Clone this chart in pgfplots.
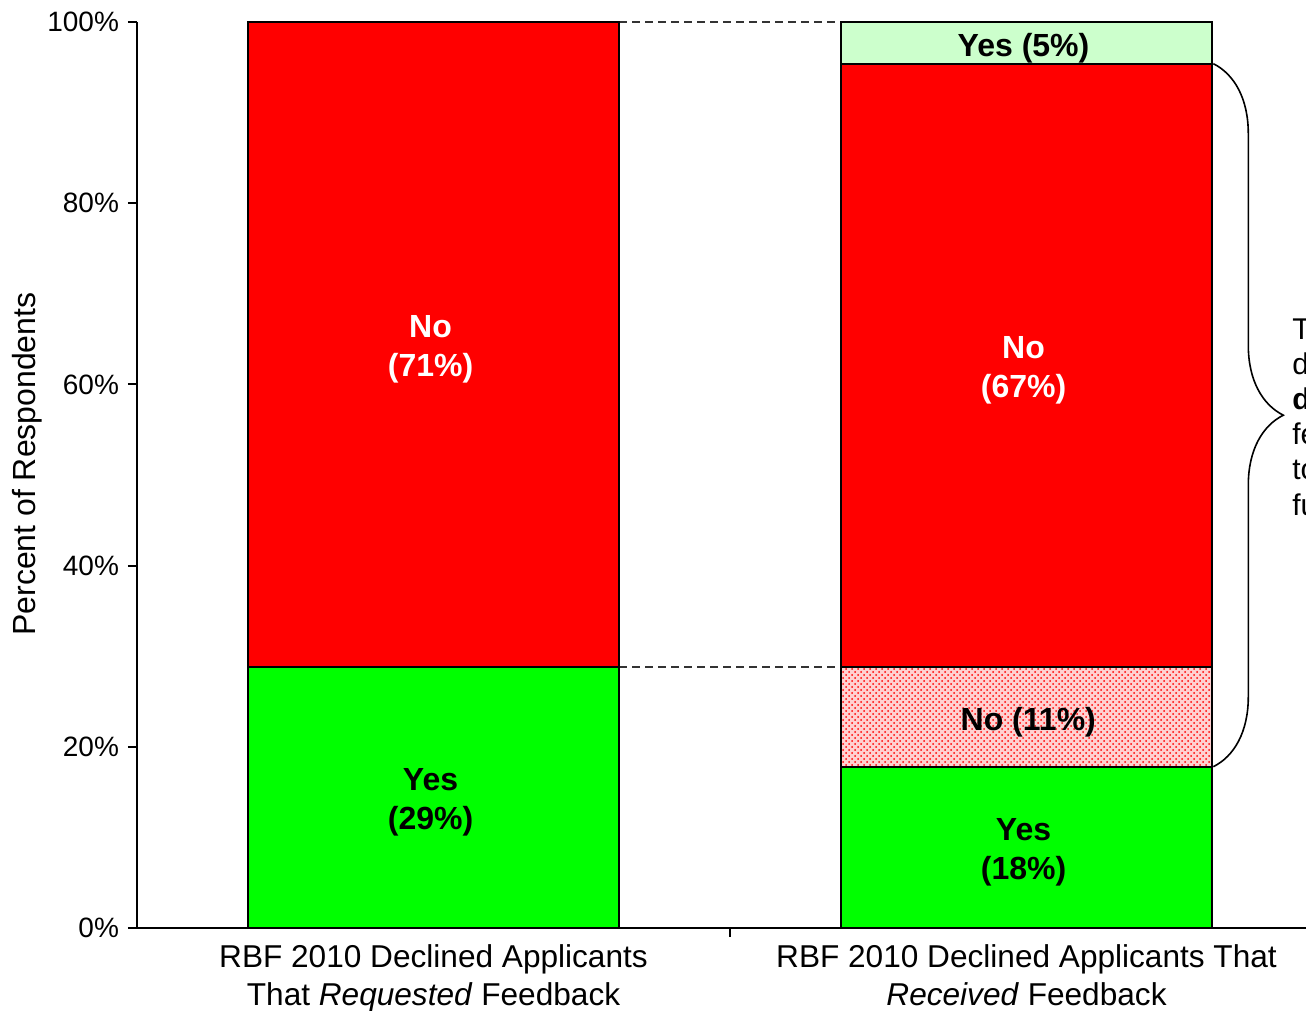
\documentclass[border=0pt]{standalone}
\usepackage{fontspec}
\setmainfont{Liberation Sans}
\usepackage{pgfplots}
\pgfplotsset{compat=1.18}
\usetikzlibrary{patterns,decorations.pathreplacing}
\definecolor{palegreen}{RGB}{204,255,204}
\begin{document}
\begin{tikzpicture}
\useasboundingbox (0,0) rectangle (653pt,505.5pt);
\clip (0,0) rectangle (653pt,505.5pt);
\begin{axis}[
  at={(68.5pt,41.5pt)}, anchor=south west,
  scale only axis, width=593pt, height=453pt,
  ybar stacked, bar width=0.626,
  xmin=-0.5, xmax=1.5, ymin=0, ymax=100,
  axis x line=bottom, axis y line=left,
  axis line style={-, line width=1pt, black},
  xtick={0,1},
  xticklabels={{RBF 2010 Declined Applicants\\That \textit{Requested} Feedback},{RBF 2010 Declined Applicants That\\\textit{Received} Feedback}},
  xtick style={draw=none},
  xticklabel style={align=center, font=\fontsize{15.8}{19}\selectfont, yshift=-0.5pt},
  ytick={0,20,40,60,80,100},
  yticklabel={\pgfmathprintnumber{\tick}\%},
  yticklabel style={font=\fontsize{14}{16}\selectfont, xshift=-1pt},
  /pgf/number format/assume math mode=true,
  ytick style={line width=1pt, black},
  tick align=outside, major tick length=4.5pt,
  ylabel={Percent of Respondents},
  ylabel style={at={(axis description cs:-0.0927,0.512)}, anchor=center, font=\fontsize{16}{19}\selectfont},
  clip=false,
]
\addplot[fill=green, draw=black, line width=0.9pt] coordinates {(0,28.8) (1,17.8)};
\addplot[fill=red!18, draw=black, line width=0.9pt, postaction={pattern=crosshatch dots, pattern color=red}] coordinates {(0,0) (1,11.0)};
\addplot[fill=red, draw=black, line width=0.9pt] coordinates {(0,71.2) (1,66.6)};
\addplot[fill=palegreen, draw=black, line width=0.9pt] coordinates {(0,0) (1,4.6)};

\draw[line width=0.8pt, black!80, dash pattern=on 4pt off 2.5pt] (axis cs:0.313,100) -- (axis cs:0.687,100);
\draw[line width=0.8pt, black!80, dash pattern=on 4pt off 2.5pt] (axis cs:0.313,28.8) -- (axis cs:0.687,28.8);
\draw[line width=1pt] (axis cs:0.5,0) -- ([yshift=-4.5pt]axis cs:0.5,0);

\draw[line width=0.8pt, decorate, decoration={brace, amplitude=35pt, aspect=0.5}] (axis cs:1.315,95.4) -- (axis cs:1.315,17.8);

\coordinate (n71) at (axis cs:-0.005,64.4);
\coordinate (y29) at (axis cs:-0.005,14.4);
\coordinate (n67) at (axis cs:0.995,62.1);
\coordinate (y18) at (axis cs:0.995,8.9);
\coordinate (n11) at (axis cs:1.003,23.3);
\coordinate (y5) at (axis cs:0.995,97.7);

\node[anchor=west, inner sep=0pt, align=left, font=\fontsize{15}{17.6}\selectfont] at ([yshift=-1.2pt]axis cs:1.4477,56.4)
  {The 78\% of\\declined applicants\\\textbf{did not receive}\\feedback useful\\to improve\\future applications};
\end{axis}
\begin{scope}[every node/.style={font=\bfseries\fontsize{16}{19.5}\selectfont, align=center, yshift=-2.6pt}]
\node[white] at (n71) {No\\(71\%)};
\node[black] at (y29) {Yes\\(29\%)};
\node[white] at (n67) {No\\(67\%)};
\node[black] at (y18) {Yes\\(18\%)};
\node[black] at (n11) {No (11\%)};
\node[black] at (y5) {Yes (5\%)};
\end{scope}
\end{tikzpicture}
\end{document}
